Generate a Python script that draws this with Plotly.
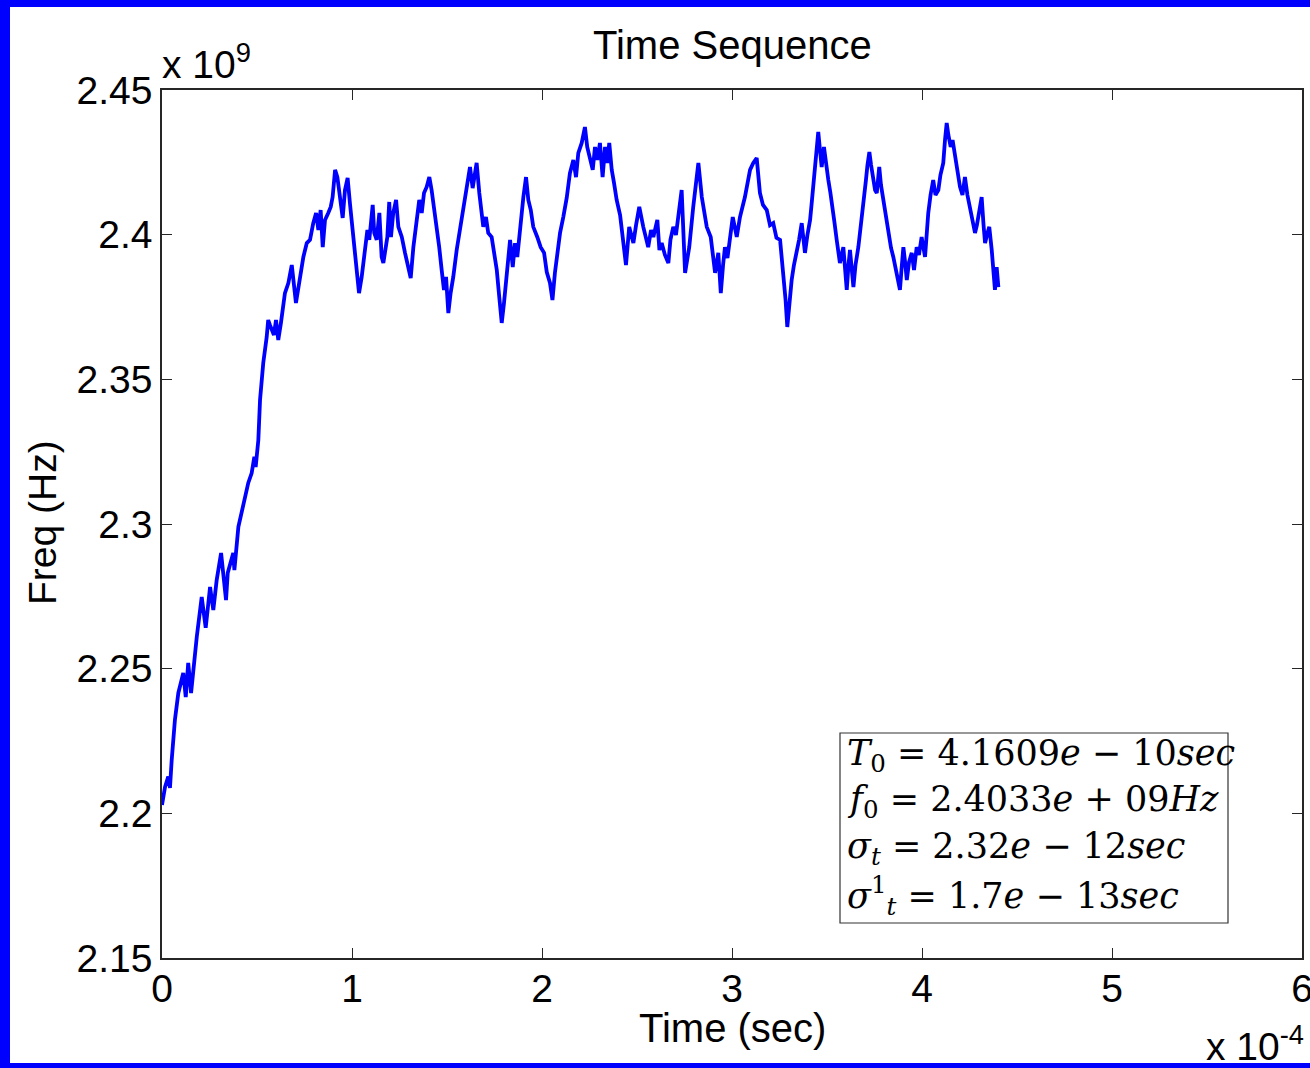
import plotly.graph_objects as go

# Time in units of 1e-4 s, frequency in units of 1e9 Hz
time_e4 = [0.000,0.016,0.033,0.042,0.051,0.068,0.086,0.112,0.125,0.138,
0.153,0.174,0.183,0.209,0.230,0.253,0.270,0.288,0.311,0.337,
0.346,0.375,0.381,0.402,0.428,0.454,0.472,0.486,0.493,0.507,
0.516,0.533,0.551,0.559,0.568,0.589,0.600,0.612,0.626,0.647,
0.665,0.683,0.705,0.726,0.744,0.762,0.779,0.796,0.811,0.823,
0.835,0.846,0.858,0.875,0.888,0.898,0.911,0.923,0.937,0.951,
0.963,0.977,0.989,1.007,1.021,1.037,1.051,1.068,1.081,1.091,
1.109,1.117,1.130,1.144,1.156,1.165,1.179,1.186,1.196,1.205,
1.217,1.232,1.244,1.262,1.279,1.296,1.309,1.323,1.337,1.354,
1.367,1.379,1.393,1.407,1.419,1.432,1.446,1.459,1.472,1.484,
1.495,1.507,1.519,1.533,1.551,1.568,1.586,1.604,1.621,1.635,
1.647,1.656,1.670,1.683,1.691,1.705,1.717,1.735,1.747,1.762,
1.775,1.788,1.800,1.814,1.832,1.846,1.858,1.870,1.884,1.902,
1.916,1.928,1.941,1.954,1.975,1.993,2.011,2.025,2.042,2.055,
2.068,2.081,2.095,2.112,2.130,2.147,2.165,2.179,2.191,2.209,
2.226,2.238,2.253,2.267,2.279,2.291,2.305,2.319,2.332,2.344,
2.354,2.367,2.379,2.393,2.411,2.424,2.442,2.459,2.481,2.495,
2.512,2.533,2.547,2.559,2.574,2.586,2.607,2.618,2.630,2.647,
2.665,2.676,2.691,2.705,2.717,2.735,2.753,2.775,2.796,2.811,
2.823,2.841,2.853,2.867,2.888,2.900,2.911,2.928,2.941,2.953,
2.963,2.976,2.989,3.004,3.025,3.042,3.068,3.095,3.112,3.130,
3.147,3.163,3.183,3.200,3.217,3.234,3.253,3.270,3.282,3.291,
3.303,3.314,3.326,3.341,3.353,3.367,3.384,3.397,3.411,3.421,
3.432,3.442,3.454,3.463,3.472,3.484,3.495,3.507,3.518,3.530,
3.539,3.551,3.561,3.568,3.586,3.604,3.613,3.621,3.639,3.650,
3.665,3.676,3.688,3.705,3.713,3.723,3.732,3.744,3.753,3.762,
3.775,3.784,3.797,3.811,3.823,3.837,3.849,3.867,3.876,3.884,
3.892,3.902,3.911,3.920,3.932,3.946,3.958,3.972,3.984,3.998,
4.016,4.024,4.033,4.045,4.059,4.071,4.086,4.097,4.112,4.121,
4.130,4.139,4.151,4.161,4.174,4.187,4.200,4.213,4.226,4.239,
4.253,4.266,4.279,4.289,4.302,4.314,4.324,4.332,4.342,4.354,
4.367,4.376,4.384,4.393,4.402]

freq_e9 = [2.2029,2.2091,2.2127,2.2088,2.2184,2.2323,2.2416,2.2485,2.2402,2.2520,
2.2416,2.2554,2.2610,2.2748,2.2641,2.2782,2.2703,2.2807,2.2900,2.2737,
2.2831,2.2900,2.2841,2.2990,2.3073,2.3142,2.3176,2.3232,2.3197,2.3290,
2.3429,2.3557,2.3646,2.3705,2.3688,2.3653,2.3705,2.3636,2.3695,2.3798,
2.3833,2.3895,2.3764,2.3854,2.3923,2.3971,2.3982,2.4040,2.4075,2.4016,
2.4085,2.3957,2.4051,2.4075,2.4096,2.4130,2.4224,2.4199,2.4130,2.4058,
2.4154,2.4196,2.4109,2.3992,2.3902,2.3798,2.3854,2.3947,2.4016,2.3982,
2.4103,2.4006,2.3982,2.4075,2.3923,2.3902,2.3971,2.3992,2.4113,2.3992,
2.4075,2.4120,2.4027,2.3992,2.3937,2.3888,2.3850,2.3957,2.4027,2.4120,
2.4075,2.4144,2.4165,2.4199,2.4154,2.4096,2.4027,2.3957,2.3878,2.3809,
2.3854,2.3729,2.3798,2.3854,2.3947,2.4016,2.4085,2.4165,2.4234,2.4161,
2.4224,2.4248,2.4144,2.4085,2.4027,2.4061,2.4006,2.3992,2.3937,2.3878,
2.3785,2.3695,2.3764,2.3854,2.3982,2.3888,2.3971,2.3923,2.4027,2.4130,
2.4199,2.4120,2.4085,2.4027,2.3992,2.3957,2.3937,2.3871,2.3833,2.3774,
2.3868,2.3930,2.4006,2.4061,2.4127,2.4213,2.4258,2.4199,2.4282,2.4317,
2.4372,2.4303,2.4258,2.4224,2.4303,2.4258,2.4317,2.4199,2.4303,2.4248,
2.4317,2.4224,2.4179,2.4120,2.4068,2.3982,2.3895,2.4027,2.3971,2.4033,
2.4096,2.4027,2.3982,2.3957,2.4016,2.3992,2.4051,2.3947,2.3971,2.3930,
2.3902,2.3982,2.4027,2.3999,2.4061,2.4154,2.3868,2.3957,2.4096,2.4189,
2.4248,2.4130,2.4085,2.4027,2.3992,2.3930,2.3868,2.3937,2.3798,2.3895,
2.3957,2.3919,2.3982,2.4061,2.3992,2.4061,2.4130,2.4224,2.4248,2.4265,
2.4144,2.4103,2.4085,2.4033,2.4040,2.3989,2.3982,2.3878,2.3774,2.3681,
2.3774,2.3843,2.3895,2.3937,2.3982,2.4040,2.3937,2.3999,2.4051,2.4120,
2.4189,2.4275,2.4355,2.4293,2.4234,2.4303,2.4241,2.4189,2.4144,2.4096,
2.4044,2.3982,2.3930,2.3902,2.3957,2.3809,2.3895,2.3947,2.3819,2.3895,
2.3957,2.4016,2.4075,2.4189,2.4241,2.4286,2.4241,2.4199,2.4154,2.4144,
2.4234,2.4172,2.4120,2.4058,2.4006,2.3954,2.3923,2.3868,2.3843,2.3809,
2.3878,2.3957,2.3906,2.3843,2.3906,2.3937,2.3878,2.3957,2.3930,2.3992,
2.3923,2.3999,2.4075,2.4137,2.4189,2.4137,2.4154,2.4206,2.4248,2.4327,
2.4386,2.4344,2.4303,2.4327,2.4268,2.4224,2.4165,2.4137,2.4199,2.4137,
2.4096,2.4051,2.4006,2.4033,2.4075,2.4130,2.4033,2.3971,2.3999,2.4027,
2.3947,2.3878,2.3809,2.3888,2.3819]

x_ticks = [0, 1, 2, 3, 4, 5, 6]
y_ticks = [2.15, 2.2, 2.25, 2.3, 2.35, 2.4, 2.45]
y_tick_text = ["2.15", "2.2", "2.25", "2.3", "2.35", "2.4", "2.45"]

info_lines = [
    "<i>T</i><sub>0</sub> = 4.1609<i>e</i> − 10<i>sec</i>",
    "<i>f</i><sub>0</sub> = 2.4033<i>e</i> + 09<i>Hz</i>",
    "<i>σ</i><sub><i>t</i></sub> = 2.32<i>e</i> − 12<i>sec</i>",
    "<i>σ</i><sup>1</sup><sub><i>t</i></sub> = 1.7<i>e</i> − 13<i>sec</i>",
]

W, H = 1310, 1068
L, R, T, B = 162, 8, 90, 110
pw, ph = W - L - R, H - T - B

def px(x):
    return (x - L) / pw

def py(y):
    return (H - B - y) / ph

SANS = "Liberation Sans, Arial, Helvetica, sans-serif"
SERIF = "DejaVu Serif, Liberation Serif, serif"

fig = go.Figure()
fig.add_trace(go.Scatter(x=time_e4, y=freq_e9, mode="lines",
                         line=dict(color="#0000FF", width=3.8),
                         showlegend=False, hoverinfo="skip"))

axis_common = dict(showline=True, linecolor="#262626", linewidth=1.5, mirror="ticks",
                   ticks="inside", ticklen=10, tickwidth=1.2, tickcolor="#262626",
                   showgrid=False, zeroline=False, ticklabeloverflow="allow",
                   automargin=False,
                   tickfont=dict(family=SANS, size=39, color="#000000"))

fig.update_xaxes(range=[0, 6], tickvals=x_ticks, ticktext=[str(v) for v in x_ticks],
                 ticklabelstandoff=-5, **axis_common)
fig.update_yaxes(range=[2.15, 2.45], tickvals=y_ticks, ticktext=y_tick_text, **axis_common)

shapes = [
    # white page inside blue frame
    dict(type="rect", xref="paper", yref="paper", layer="below",
         x0=px(10), x1=px(1400), y0=py(1063), y1=py(7),
         fillcolor="#FFFFFF", line=dict(width=0)),
    # info box
    dict(type="rect", xref="paper", yref="paper",
         x0=px(840), x1=px(1228), y0=py(923), y1=py(733),
         fillcolor="rgba(255,255,255,0)", line=dict(color="#333333", width=1.2)),
]

annotations = [
    dict(text="Time Sequence", x=0.5, y=py(45), xref="paper", yref="paper",
         xanchor="center", yanchor="middle", showarrow=False,
         font=dict(family=SANS, size=40, color="#000000")),
    dict(text="Time (sec)", x=0.5, y=py(1028), xref="paper", yref="paper",
         xanchor="center", yanchor="middle", showarrow=False,
         font=dict(family=SANS, size=40, color="#000000")),
    dict(text="Freq (Hz)", x=px(42), y=py(523), xref="paper", yref="paper",
         xanchor="center", yanchor="middle", showarrow=False, textangle=-90,
         font=dict(family=SANS, size=39, color="#000000")),
    dict(text="x 10<sup>9</sup>", x=px(160), y=py(88), xref="paper", yref="paper",
         xanchor="left", yanchor="bottom", showarrow=False,
         font=dict(family=SANS, size=39, color="#000000")),
    dict(text="x 10<sup>-4</sup>", x=px(1306), y=py(1070), xref="paper", yref="paper",
         xanchor="right", yanchor="bottom", showarrow=False,
         font=dict(family=SANS, size=39, color="#000000")),
]

line_centres = [755, 801, 848, 895]
for txt, yc in zip(info_lines, line_centres):
    annotations.append(dict(text=txt, x=px(845), y=py(yc), xref="paper", yref="paper",
                            xanchor="left", yanchor="middle", showarrow=False,
                            font=dict(family=SERIF, size=35, color="#000000")))

fig.update_layout(width=W, height=H, margin=dict(l=L, r=R, t=T, b=B, pad=0, autoexpand=False),
                  paper_bgcolor="#0000FF", plot_bgcolor="#FFFFFF",
                  shapes=shapes, annotations=annotations, showlegend=False)

fig.write_html("out.html")
